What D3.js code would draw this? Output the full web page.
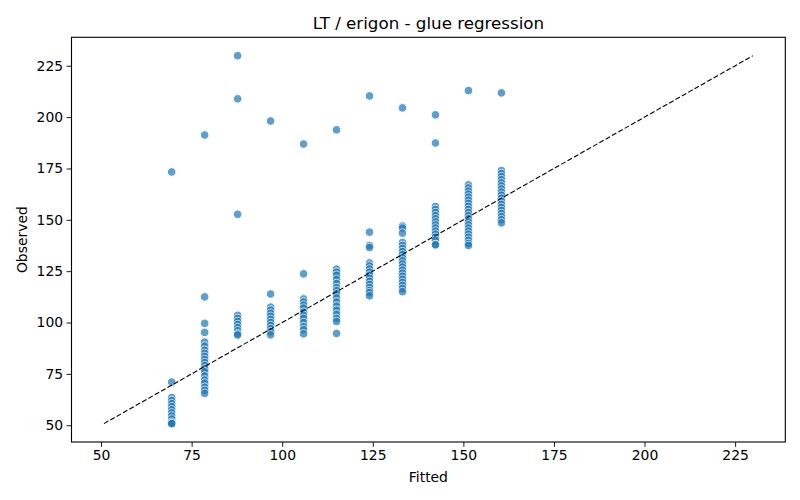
<!DOCTYPE html>
<html>
<head>
<meta charset="utf-8">
<script src="https://cdn.jsdelivr.net/npm/d3@7"></script>
<style>
  body { margin: 0; background: #fff; }
  svg { display: block; font-family: "DejaVu Sans", sans-serif; }
</style>
</head>
<body>
<svg id="chart" width="800" height="500"></svg>
<script>
const title = "LT / erigon - glue regression";
const xLabel = "Fitted";
const yLabel = "Observed";
const xTicks = [50, 75, 100, 125, 150, 175, 200, 225];
const yTicks = [50, 75, 100, 125, 150, 175, 200, 225];

// distinct fitted levels
const fittedLevels = [69.5, 78.6, 87.7, 96.8, 105.9, 115.0, 124.1, 133.2, 142.3, 151.4, 160.5];

// observed values at each fitted level
const observed69 = [173.3, 71, 63.5, 62, 60.5, 59, 57.5, 56, 54.5, 53, 51.5, 50.8, 50.8];
const observed78 = [191.3, 112.5, 99.6, 95.2, 90.5, 88.5, 86.5, 85, 83.5, 82, 80.5, 79, 77.5, 76, 74, 72, 70.5, 68.5, 67, 65.5];
const observed87 = [229.9, 208.9, 152.7, 103.5, 102, 100.5, 99, 97.5, 96, 94.5, 93.9];
const observed96 = [198.1, 113.9, 107.5, 106, 104.5, 103, 101.5, 100, 98.5, 97, 95.5, 94];
const observed105 = [186.9, 123.7, 111.5, 110, 108.5, 107, 105, 103.5, 102, 100, 98, 96.5, 94.5];
const observed114 = [193.8, 126, 124.5, 123, 121, 119, 117, 115.5, 114, 112, 110, 108, 106, 104, 102, 100.5, 94.7];
const observed124 = [210.3, 144, 137.5, 136.5, 129, 127.5, 126, 124.5, 123, 121.5, 120, 118.5, 117, 115.5, 114.5, 113];
const observed133 = [204.5, 147, 146, 143.5, 139, 137.5, 136, 134.5, 133, 131.5, 130, 128.5, 127, 125.5, 124, 122.5, 121, 119.5, 118, 116.5, 115];
const observed142 = [201.1, 187.4, 156.5, 155, 153.5, 152, 150.5, 149, 147.5, 146, 144.5, 143, 141.5, 140, 138, 137.8];
const observed151 = [212.9, 167, 165.5, 164, 162.5, 161, 159.5, 158, 156.5, 155, 153.5, 152, 150.5, 149, 147.5, 146, 144.5, 143, 141.5, 140, 138.5, 137.5];
const observed160 = [211.8, 174, 172.5, 171, 169.5, 168, 166.5, 165, 163.5, 162, 160.5, 159, 157.5, 156, 154.5, 153, 151.5, 150, 148.5];

const observedGroups = [observed69, observed78, observed87, observed96, observed105, observed114,
  observed124, observed133, observed142, observed151, observed160];

const points = [];
fittedLevels.forEach((f, i) => observedGroups[i].forEach(o => points.push({ x: f, y: o })));

const W = 800, H = 500;
const margin = { left: 71.5, right: 14.7, top: 37.3, bottom: 58 };
const svg = d3.select("#chart");

// matplotlib-like 5% margins over data + identity line extent
const lineMin = d3.min(points, d => d.y), lineMax = d3.max(points, d => d.y);
const lo = Math.min(lineMin, d3.min(points, d => d.x));
const hi = Math.max(lineMax, d3.max(points, d => d.x));
const pad = (hi - lo) * 0.05;

const x = d3.scaleLinear().domain([lo - pad, hi + pad]).range([margin.left, W - margin.right]);
const y = d3.scaleLinear().domain([lo - pad, hi + pad]).range([H - margin.bottom, margin.top]);

// points
svg.append("g").selectAll("circle").data(points).enter().append("circle")
  .attr("cx", d => x(d.x)).attr("cy", d => y(d.y)).attr("r", 4.3)
  .attr("fill", "#1f77b4").attr("stroke", "#ffffff").attr("stroke-width", 1)
  .attr("opacity", 0.7);

// identity line
svg.append("line")
  .attr("x1", x(lineMin)).attr("y1", y(lineMin))
  .attr("x2", x(lineMax)).attr("y2", y(lineMax))
  .attr("stroke", "#000").attr("stroke-width", 1.1)
  .attr("stroke-dasharray", "5.1,2.2");

// axes
const xAxis = d3.axisBottom(x).tickValues(xTicks).tickSize(4.9).tickPadding(3.5).tickSizeOuter(0);
const yAxis = d3.axisLeft(y).tickValues(yTicks).tickSize(4.9).tickPadding(3.5).tickSizeOuter(0);
const gx = svg.append("g").attr("transform", `translate(0,${H - margin.bottom})`).call(xAxis);
const gy = svg.append("g").attr("transform", `translate(${margin.left},0)`).call(yAxis);
[gx, gy].forEach(g => {
  g.select(".domain").remove();
  g.selectAll(".tick line").attr("stroke", "#000").attr("stroke-width", 0.9);
  g.selectAll(".tick text").attr("fill", "#000").style("font-size", "13.9px").style("font-family", "DejaVu Sans");
});

// frame
svg.append("rect")
  .attr("x", margin.left).attr("y", margin.top)
  .attr("width", W - margin.left - margin.right).attr("height", H - margin.top - margin.bottom)
  .attr("fill", "none").attr("stroke", "#000").attr("stroke-width", 1.1);

// title and labels
svg.append("text").attr("x", (margin.left + W - margin.right) / 2).attr("y", 29)
  .attr("text-anchor", "middle").style("font-size", "16.7px").text(title);
svg.append("text").attr("x", (margin.left + W - margin.right) / 2).attr("y", 482)
  .attr("text-anchor", "middle").style("font-size", "13.9px").text(xLabel);
svg.append("text").attr("transform", `translate(27,${(margin.top + H - margin.bottom) / 2}) rotate(-90)`)
  .attr("text-anchor", "middle").style("font-size", "13.9px").text(yLabel);
</script>
</body>
</html>
